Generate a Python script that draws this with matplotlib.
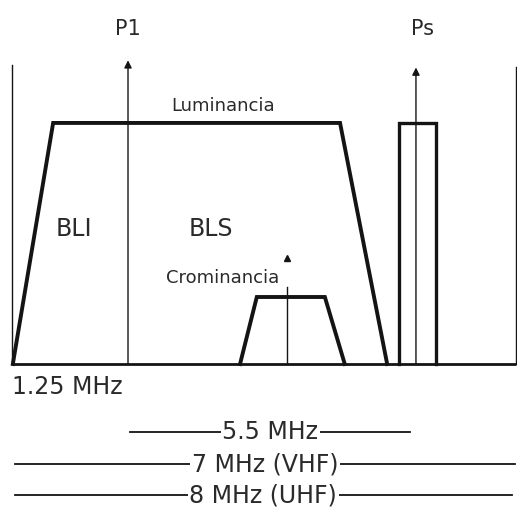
import matplotlib
matplotlib.use("Agg")
import matplotlib.pyplot as plt

# Diagram units: x in MHz relative to the video carrier P1, y relative level
lum_x = [-2.20, -1.43, 4.05, 4.95]
lum_y = [0.0, 1.0, 1.0, 0.0]
chroma_x = [2.14, 2.46, 3.76, 4.14]
chroma_y = [0.0, 0.278, 0.278, 0.0]
chroma_carrier = 3.04
chroma_arrow_top = 0.32
chroma_head = 0.44
sound_x = [5.18, 5.18, 5.88, 5.88]
sound_y = [0.0, 1.0, 1.0, 0.0]
p1_x, p1_top = 0.0, 1.26
ps_x, ps_top = 5.50, 1.23
left_edge, left_top = -2.21, 1.24
right_edge, right_top = 7.41, 1.23

labels_top = ["P1", "Ps"]
bottom_label = "1.25 MHz"
spans = [("5.5 MHz", 0.04, 5.39, -0.282),
         ("7 MHz (VHF)", -2.16, 7.39, -0.415),
         ("8 MHz (UHF)", -2.16, 7.33, -0.544)]

K = "#141414"
T = "#2a2a2a"
fig = plt.figure(figsize=(5.17, 5.13), dpi=100)
ax = fig.add_axes([0, 0, 1, 1])
ax.set_xlim(-2.445, 7.43)
ax.set_ylim(-0.618, 1.510)
ax.axis("off")

# baseline and side lines
ax.plot([left_edge, right_edge], [0, 0], color=K, lw=2.0, solid_capstyle="butt")
ax.plot([left_edge, left_edge], [0, left_top], color=K, lw=1.0)
ax.plot([right_edge, right_edge], [0, right_top], color=K, lw=1.0)

# luminance trapezoid
ax.plot(lum_x, lum_y, color=K, lw=2.8, solid_joinstyle="miter")
# chroma trapezoid
ax.plot(chroma_x, chroma_y, color=K, lw=2.8, solid_joinstyle="miter")
# sound carrier rectangle
ax.plot(sound_x, sound_y, color=K, lw=2.4, solid_joinstyle="miter")

# carriers with arrows
for x, top in [(p1_x, p1_top), (ps_x, ps_top)]:
    ax.annotate("", xy=(x, top), xytext=(x, 0),
                arrowprops=dict(arrowstyle="-|>", color=K, lw=1.0,
                                mutation_scale=11, shrinkA=0, shrinkB=0))
ax.plot([chroma_carrier, chroma_carrier], [0, chroma_arrow_top], color=K, lw=1.0)
ax.plot([chroma_carrier], [chroma_head], marker="^", color=K, ms=5)

# texts
ax.text(p1_x, 1.39, labels_top[0], ha="center", va="center", fontsize=15, color=T)
ax.text(ps_x + 0.12, 1.39, labels_top[1], ha="center", va="center", fontsize=15, color=T)
ax.text(1.81, 1.07, "Luminancia", ha="center", va="center", fontsize=13, color=T)
ax.text(-1.04, 0.56, "BLI", ha="center", va="center", fontsize=17, color=T)
ax.text(1.58, 0.56, "BLS", ha="center", va="center", fontsize=17, color=T)
ax.text(1.81, 0.355, "Crominancia", ha="center", va="center", fontsize=13, color=T)
ax.text(-2.21, -0.095, bottom_label, ha="left", va="center", fontsize=17, color=T)

for text, x0, x1, y in spans:
    ax.plot([x0, x1], [y, y], color=K, lw=1.3)
    ax.text((x0 + x1) / 2, y, text, ha="center", va="center", fontsize=17, color=T,
            bbox=dict(facecolor="white", edgecolor="none", pad=1.0))

fig.savefig("out.png", dpi=100, facecolor="white")
